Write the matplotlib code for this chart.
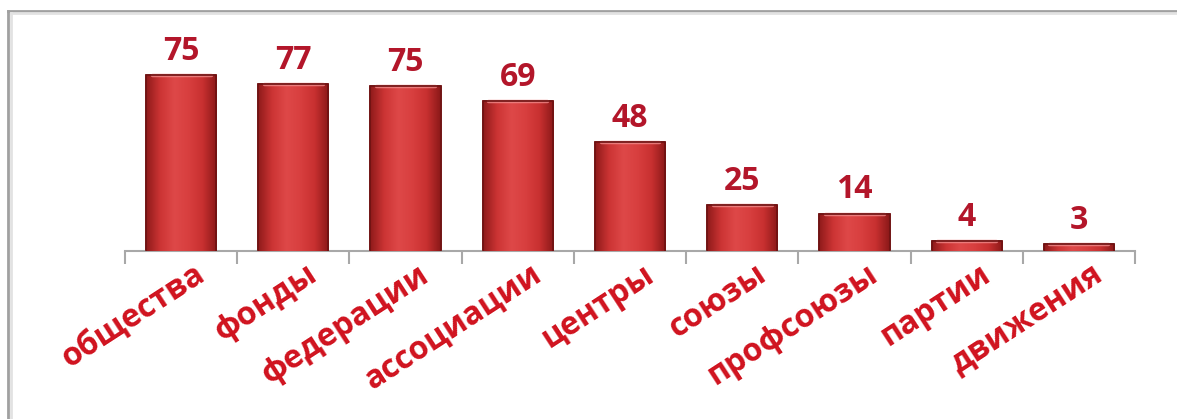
import numpy as np
import matplotlib
matplotlib.use("Agg")
import matplotlib.pyplot as plt
import matplotlib.transforms as mtransforms
from matplotlib.colors import LinearSegmentedColormap
from matplotlib.lines import Line2D

plt.rcParams['font.family'] = ['Open Sans', 'DejaVu Sans']

categories = ["общества", "фонды", "федерации", "ассоциации", "центры",
              "союзы", "профсоюзы", "партии", "движения"]
# bar heights as drawn in the picture (they do not follow the printed labels exactly)
bar_heights = [80, 76, 75, 68, 49.5, 21, 17, 4.5, 3.2]
value_labels = ["75", "77", "75", "69", "48", "25", "14", "4", "3"]

W, H = 1177, 419
fig = plt.figure(figsize=(W / 100, H / 100), dpi=100)
ax = fig.add_axes([125 / W, 168 / H, 1010 / W, 240 / H])

x = np.arange(len(categories)) + 0.5
bars = ax.bar(x, bar_heights, width=0.625, color="#d23a3a",
              edgecolor="#7e1616", linewidth=1.2, zorder=2)

# shaded look: darker at the sides, lighter in the middle
shade = LinearSegmentedColormap.from_list(
    "shade", ["#8e1a1a", "#cc3434", "#de4848", "#d83f3f", "#c83030", "#8a1818"])
grad = np.linspace(0, 1, 256).reshape(1, -1)
for b in bars:
    x0, y0 = b.get_x(), b.get_y()
    w, h = b.get_width(), b.get_height()
    im = ax.imshow(grad, cmap=shade, aspect="auto", zorder=3,
                   extent=(x0, x0 + w, y0, y0 + h), interpolation="bicubic")
    im.set_clip_path(b)
    # highlight on the top edge
    ax.plot([x0 + w * 0.08, x0 + w * 0.92], [y0 + h, y0 + h], color="#f08a8a",
            lw=2.5, solid_capstyle="round", zorder=4, alpha=0.8)
    ax.plot([x0, x0, x0 + w, x0 + w], [y0, y0 + h, y0 + h, y0], color="#6e1212",
            lw=1.2, zorder=5)

for xi, hi, lab in zip(x, bar_heights, value_labels):
    ax.annotate(lab, (xi, hi), xytext=(0, 11), textcoords="offset points",
                ha="center", va="baseline", fontsize=23, fontweight="bold",
                color="#b3162a")

ax.set_xlim(0, len(categories))
ax.set_ylim(0, 240 / 2.2)

for s in ["top", "right", "left"]:
    ax.spines[s].set_visible(False)
ax.spines["bottom"].set_color("#a8a8a8")
ax.spines["bottom"].set_linewidth(1.5)
ax.set_yticks([])

ax.set_xticks(np.arange(len(categories) + 1))
ax.set_xticklabels([])
ax.tick_params(axis="x", which="major", length=9, width=1.5, color="#a8a8a8")
ax.set_xticks(x, minor=True)
ax.set_xticklabels(categories, minor=True, rotation=33, ha="right",
                   rotation_mode="anchor", fontsize=23, fontweight="bold",
                   color="#d0121e")
ax.tick_params(axis="x", which="minor", length=0, pad=5)
offset = mtransforms.ScaledTranslation(12 / 100, 0, fig.dpi_scale_trans)
for lab in ax.get_xticklabels(minor=True):
    lab.set_transform(lab.get_transform() + offset)

# picture frame (left and top edges)
fx, fy = 8 / W, 1 - 11 / H
fig.add_artist(Line2D([fx, fx], [0, fy], color="#a0a0a0", lw=2, transform=fig.transFigure))
fig.add_artist(Line2D([fx, 1], [fy, fy], color="#a0a0a0", lw=2, transform=fig.transFigure))
fig.add_artist(Line2D([fx + 2.5 / W, fx + 2.5 / W], [0, fy - 2.5 / H], color="#e2e2e2", lw=2,
                      transform=fig.transFigure))
fig.add_artist(Line2D([fx + 2.5 / W, 1], [fy - 2.5 / H, fy - 2.5 / H], color="#e2e2e2", lw=2,
                      transform=fig.transFigure))

fig.savefig("out.png", dpi=100)
